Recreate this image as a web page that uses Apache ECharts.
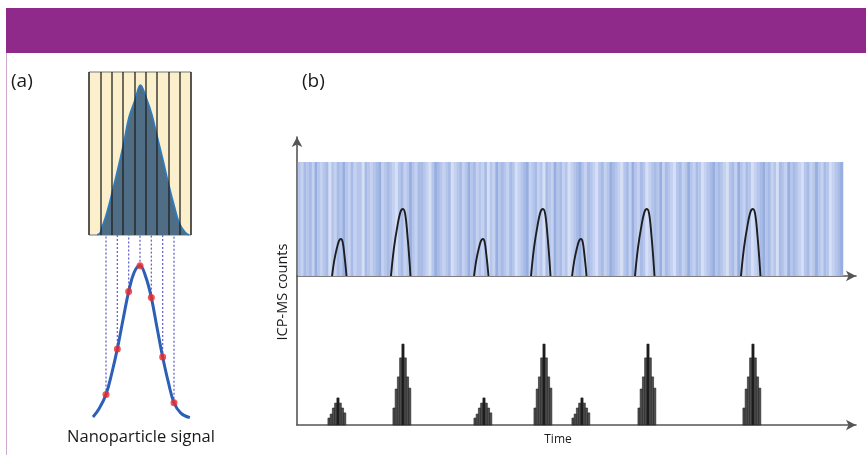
<!DOCTYPE html>
<html><head><meta charset="utf-8">
<script src="https://cdn.jsdelivr.net/npm/echarts/dist/echarts.min.js"></script>
<style>html,body{margin:0;padding:0;background:#fff}#c{width:866px;height:455px}</style>
</head><body><div id="c"></div>
<script>
// ---------- Panel (a) data ----------
// top box: Gaussian signal over 9 dwell-time columns (x in column units 0..9)
const gaussX = [0.71, 0.97, 1.12, 1.5, 2.03, 2.56, 3.06, 3.53, 4.06, 4.53, 5.09, 5.56, 6.03, 6.53, 7.0, 7.5, 7.97, 8.47, 8.83];
const gaussY = [0, 0.012, 0.043, 0.12, 0.258, 0.411, 0.564, 0.724, 0.828, 0.92, 0.834, 0.736, 0.601, 0.46, 0.319, 0.184, 0.074, 0.018, 0];
// bottom: reconstructed nanoparticle signal
const curveX = [0.35, 0.9, 1.5, 2.0, 2.5, 3.0, 3.5, 4.0, 4.5, 5.0, 5.5, 6.0, 6.5, 7.0, 7.5, 8.1, 8.9];
const curveY = [0.02, 0.075, 0.166, 0.3, 0.461, 0.65, 0.833, 0.96, 1.0, 0.93, 0.794, 0.6, 0.409, 0.245, 0.112, 0.045, 0.015];
const dotX = [1.5, 2.5, 3.5, 4.5, 5.5, 6.5, 7.5];
const dotY = [0.166, 0.461, 0.833, 1.0, 0.794, 0.409, 0.112];

// ---------- Panel (b) data ----------
const peakTimesTop = [7.87, 18.96, 33.27, 44.01, 50.81, 62.61, 81.57];
const peakSizes = ['s', 'l', 's', 'l', 's', 'l', 'l'];
const peakHeightTop = { s: 32.5, l: 58.8 };
const peakLeftWidth = { s: 1.6, l: 2.15 };
const peakRightWidth = { s: 0.98, l: 1.34 };
const profileX = [-1, -0.75, -0.45, -0.2, 0, 0.3, 0.6, 0.85, 1];
const profileY = [0, 0.42, 0.76, 0.96, 1, 0.92, 0.6, 0.25, 0];
const backgroundLevel = 100;
const backgroundEnd = 97.5;
// stripe shade codes across the continuous background (0 base,1 light,2 darker,3 pale,4 dark)
const stripeShades = "0120214010230120401210032010241020130210401220130420102310210402101230140201203102410210320140210310240120130210420130214012031020412013021040120310240201302140120310240210320140201302104012031024";

const peakTimesBottom = [7.33, 18.96, 33.45, 44.19, 50.98, 62.79, 81.57];
const barsLarge = [5.9, 12.5, 16.7, 23.3, 28.1, 23.3, 16.7, 12.8];
const barsSmall = [2.4, 3.8, 5.9, 7.6, 9.4, 7.6, 5.9, 4.2];
const barWidth = 0.4;

// ---------- build ----------
const chart = echarts.init(document.getElementById('c'), null, { renderer: 'canvas' });
const stripeColors = ['#b6c6eb', '#c4d1f0', '#a8bbe6', '#d5dff5', '#97aee1'];
const sw = backgroundEnd / stripeShades.length;
const stripeData = [];
for (let i = 0; i < stripeShades.length; i++) {
  stripeData.push([i * sw + 0.15, (i + 1) * sw + 0.15, +stripeShades[i]]);
}
const barData = [];
peakTimesBottom.forEach((t, k) => {
  const h = peakSizes[k] === 'l' ? barsLarge : barsSmall;
  h.forEach((v, i) => {
    const x0 = t - 4.5 * barWidth + i * barWidth;
    barData.push([x0, x0 + barWidth, v, i === 4 ? 1 : 0]);
  });
});
const peakSeries = peakTimesTop.map((t, k) => {
  const s = peakSizes[k];
  return {
    type: 'line', xAxisIndex: 2, yAxisIndex: 2, smooth: 0.35, showSymbol: false, silent: true,
    lineStyle: { color: '#1e1e1e', width: 1.9 }, z: 4,
    data: profileX.map((p, i) => [t + p * (p < 0 ? peakLeftWidth[s] : peakRightWidth[s]), peakHeightTop[s] * profileY[i]])
  };
});
const hidden = { show: false };
const font = "'Open Sans', 'Noto Sans', sans-serif";

chart.setOption({
  animation: false,
  backgroundColor: '#ffffff',
  grid: [
    { left: 89, top: 72, width: 102, height: 163, show: true, backgroundColor: '#fcf0cc', borderColor: '#777', borderWidth: 1 },
    { left: 89, top: 235, width: 102, height: 185 },
    { left: 297, top: 162, width: 559, height: 114 },
    { left: 297, top: 137, width: 559, height: 288 }
  ],
  xAxis: [
    { gridIndex: 0, type: 'value', min: 0, max: 9, interval: 1, z: 5, axisLine: hidden, axisTick: hidden, axisLabel: hidden,
      splitLine: { show: true, lineStyle: { color: 'rgba(30,30,30,0.8)', width: 1.6 } } },
    { gridIndex: 1, type: 'value', min: 0, max: 9, show: false },
    { gridIndex: 2, type: 'value', min: 0, max: 100, axisTick: hidden, axisLabel: hidden, splitLine: hidden,
      axisLine: { show: true, symbol: ['none', 'arrow'], symbolSize: [8, 10], lineStyle: { color: '#555', width: 1.6 } } },
    { gridIndex: 3, type: 'value', min: 0, max: 100, axisTick: hidden, axisLabel: hidden, splitLine: hidden,
      axisLine: { show: true, symbol: ['none', 'arrow'], symbolSize: [8, 10], lineStyle: { color: '#555', width: 1.6 } } }
  ],
  yAxis: [
    { gridIndex: 0, type: 'value', min: 0, max: 1, show: false },
    { gridIndex: 1, type: 'value', min: 0, max: 1.2, show: false },
    { gridIndex: 2, type: 'value', min: 0, max: 100, show: false },
    { gridIndex: 3, type: 'value', min: 0, max: 100, axisTick: hidden, axisLabel: hidden, splitLine: hidden,
      axisLine: { show: true, symbol: ['none', 'arrow'], symbolSize: [8, 10], lineStyle: { color: '#555', width: 1.6 } } }
  ],
  series: [
    { type: 'line', xAxisIndex: 0, yAxisIndex: 0, smooth: 0.4, showSymbol: false, silent: true,
      lineStyle: { color: '#2f7cc0', width: 1.6 }, areaStyle: { color: '#4f6e86', opacity: 1 },
      data: gaussX.map((x, i) => [x, gaussY[i]]) },
    { type: 'custom', xAxisIndex: 1, yAxisIndex: 1, silent: true, z: 1,
      data: dotX.map((x, i) => [x, dotY[i]]),
      renderItem: (params, api) => {
        const a = api.coord([api.value(0), api.value(1)]);
        const b = api.coord([api.value(0), 1.2]);
        return { type: 'line', shape: { x1: a[0], y1: a[1], x2: b[0], y2: b[1] },
          style: { stroke: '#6466cc', lineWidth: 1.3, lineDash: [2, 2] } };
      } },
    { type: 'line', xAxisIndex: 1, yAxisIndex: 1, smooth: 0.4, showSymbol: false, silent: true, z: 3,
      lineStyle: { color: '#2c5fb5', width: 3 },
      data: curveX.map((x, i) => [x, curveY[i]]) },
    { type: 'scatter', xAxisIndex: 1, yAxisIndex: 1, symbolSize: 7, silent: true, z: 4,
      itemStyle: { color: '#ec2a2a' },
      data: dotX.map((x, i) => [x, dotY[i]]) },
    { type: 'custom', xAxisIndex: 2, yAxisIndex: 2, silent: true, z: 1,
      data: stripeData,
      renderItem: (params, api) => {
        const p0 = api.coord([api.value(0), backgroundLevel]);
        const p1 = api.coord([api.value(1), 0]);
        return { type: 'rect', shape: { x: p0[0], y: p0[1], width: p1[0] - p0[0] + 0.4, height: p1[1] - p0[1] },
          style: { fill: stripeColors[api.value(2)] } };
      } },
    ...peakSeries,
    { type: 'custom', xAxisIndex: 3, yAxisIndex: 3, silent: true, z: 3,
      data: barData,
      renderItem: (params, api) => {
        const p0 = api.coord([api.value(0), api.value(2)]);
        const p1 = api.coord([api.value(1), 0]);
        const dark = api.value(3) === 1;
        return { type: 'rect', shape: { x: p0[0], y: p0[1], width: p1[0] - p0[0], height: p1[1] - p0[1] },
          style: { fill: dark ? '#1c1c1c' : '#4f4f4f', stroke: '#222', lineWidth: 0.6 } };
      } }
  ],
  graphic: [
    { type: 'rect', left: 6, top: 8, shape: { width: 860, height: 45 }, style: { fill: '#8f2a8b' }, silent: true },
    { type: 'line', shape: { x1: 6.5, y1: 53, x2: 6.5, y2: 455 }, style: { stroke: '#cfa9cf', lineWidth: 1 }, silent: true },
    { type: 'text', left: 11, top: 72, style: { text: '(a)', font: '19px ' + font, fill: '#1a1a1a' } },
    { type: 'text', left: 302, top: 72, style: { text: '(b)', font: '19px ' + font, fill: '#1a1a1a' } },
    { type: 'text', x: 141, y: 437, style: { text: 'Nanoparticle signal', font: '16.5px ' + font, fill: '#1a1a1a', align: 'center', verticalAlign: 'middle' } },
    { type: 'text', x: 283, y: 292, rotation: Math.PI / 2, style: { text: 'ICP-MS counts', font: '14.5px ' + font, fill: '#1a1a1a', align: 'center', verticalAlign: 'middle' } },
    { type: 'text', x: 558, y: 440, style: { text: 'Time', font: '12px ' + font, fill: '#1a1a1a', align: 'center', verticalAlign: 'middle' } }
  ]
});
</script>
</body></html>
